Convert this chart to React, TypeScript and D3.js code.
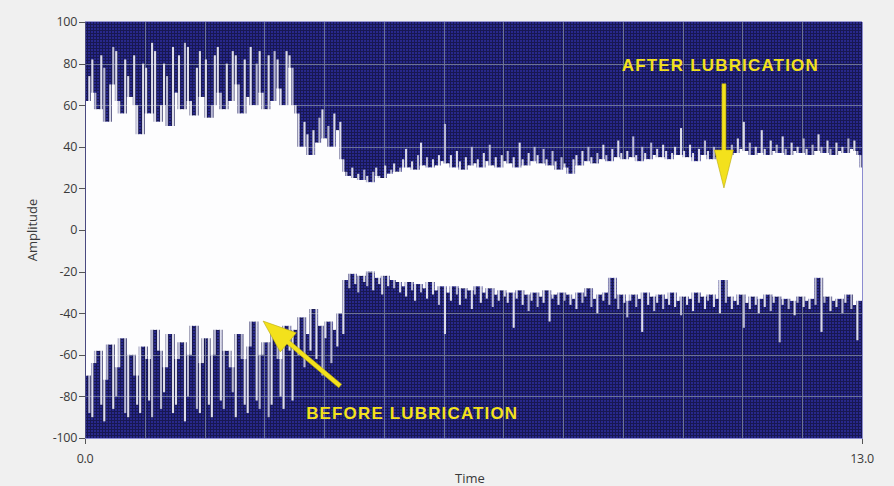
import React from 'react';
import * as d3 from 'd3';

const W = 894;
const H = 486;

// sample spacing of the traces below (seconds)
const STEP = 0.05;

// upper peak of the vibration signal, one value per 0.05 s
const upper = [
  62, 74, 82, 66, 58, 84, 78, 52, 70, 88, 86, 62, 56, 82, 74, 64, 84, 60, 46, 80,
  78, 56, 90, 86, 52, 60, 80, 74, 50, 88, 66, 84, 58, 90, 88, 62, 55, 78, 86, 64,
  82, 54, 60, 84, 88, 66, 58, 80, 62, 86, 84, 70, 56, 82, 64, 88, 60, 80, 86, 66,
  58, 84, 62, 86, 82, 68, 60, 86, 84, 78,
  60, 56, 40, 52, 46, 36, 48, 42, 54, 58, 44, 50, 40, 56, 48, 52, 34,
  28, 26, 30, 25, 27, 24, 29, 26, 23, 28, 30, 26, 25, 31, 27, 29, 32, 28, 30,
  34, 39, 30, 33, 29, 36, 42, 31, 35, 30, 34, 31, 36, 33, 51,
  32, 36, 30, 38, 33, 29, 35, 31, 40, 32, 34, 30, 37, 33, 41, 31, 35, 30, 36, 33,
  38, 32, 35, 30, 42, 34, 31, 37, 33, 40, 36, 32, 39, 34, 31, 38, 33, 29, 35, 32,
  30, 27, 34, 36, 31, 38, 33, 40, 35, 32, 37, 34, 41, 36, 33, 39, 35, 43, 37, 34,
  38, 35, 45, 36, 33, 40, 37, 34, 42, 36, 39, 35, 41, 38, 34, 37, 40, 36, 49, 38,
  35, 41, 37, 33, 39, 36, 43, 38, 34, 40, 37, 35, 42, 38, 36, 41, 37, 44, 39, 52,
  38, 42, 36, 40, 37, 48, 39, 36, 43, 38, 41, 37, 45, 39, 36, 42, 38, 40, 37, 44,
  39, 36, 41, 38, 46, 40, 37, 43, 39, 36, 42, 38, 40, 37, 44, 39, 43, 38, 36, 30,
];

// lower peak of the vibration signal
const lower = [
  -70, -88, -90, -64, -58, -84, -92, -72, -55, -86, -80, -66, -52, -88, -90, -60, -70, -84, -88, -56,
  -62, -82, -90, -48, -58, -86, -78, -66, -50, -88, -84, -62, -54, -92, -80, -60, -46, -86, -88, -64,
  -52, -84, -90, -60, -48, -82, -86, -58, -66, -78, -90, -50, -62, -84, -88, -56, -44, -82, -86, -60,
  -54, -90, -84, -48, -62, -80, -86, -46, -58, -82,
  -48, -60, -42, -66, -50, -58, -38, -62, -46, -70, -52, -44, -64, -48, -56, -40, -50,
  -24, -28, -21, -26, -30, -22, -25, -27, -20, -29, -23, -26, -31, -22, -27, -24, -28, -25, -30,
  -27, -32, -25, -29, -34, -26, -30, -28, -33, -25, -31, -29, -36, -27, -50,
  -30, -34, -27, -31, -36, -28, -33, -29, -38, -31, -27, -35, -30, -33, -28, -37, -31, -34, -29, -32,
  -35, -30, -47, -33, -29, -36, -31, -39, -34, -30, -37, -32, -35, -29, -44, -33, -31, -36, -30, -34,
  -31, -36, -33, -38, -30, -35, -32, -28, -37, -33, -40, -31, -34, -30, -36, -23, -33, -38, -31, -35,
  -42, -34, -31, -37, -33, -49, -30, -36, -32, -39, -35, -31, -38, -33, -36, -30, -37, -34, -41, -32,
  -36, -33, -39, -30, -35, -32, -38, -34, -31, -37, -33, -40, -24, -35, -32, -38, -34, -36, -31, -47,
  -35, -38, -32, -36, -40, -33, -37, -31, -39, -35, -32, -54, -36, -33, -38, -34, -41, -35, -32, -37,
  -34, -38, -33, -36, -23, -49, -35, -32, -39, -34, -37, -33, -40, -35, -31, -38, -36, -53, -34, -39,
];

const yTicks = [100, 80, 60, 40, 20, 0, -20, -40, -60, -80, -100];
const xTicks = [0, 13];
const xTickLabels = ['0.0', '13.0'];
const xGrid = [1, 2, 3, 4, 5, 6, 7, 8, 9, 10, 11, 12];

// annotations, in data units (time, amplitude)
const afterLabel = { text: 'AFTER LUBRICATION', t0: 8.98, t1: 12.26, amp: 76.5 };
const afterArrow = { from: [10.69, 70.3], to: [10.69, 20.2] };
const beforeLabel = { text: 'BEFORE LUBRICATION', t0: 3.7, t1: 7.23, amp: -91 };
const beforeArrow = { from: [4.27, -75], to: [2.98, -43.8] };

const x = d3.scaleLinear().domain([0, 13]).range([85, 862]);
const y = d3.scaleLinear().domain([-100, 100]).range([438, 22]);

const YELLOW = '#f3e11c';

function arrowPoints(from: number[], to: number[], shaft: number, headLen: number, headW: number) {
  const x0 = x(from[0]), y0 = y(from[1]);
  const x1 = x(to[0]), y1 = y(to[1]);
  const len = Math.hypot(x1 - x0, y1 - y0);
  const dx = (x1 - x0) / len, dy = (y1 - y0) / len;
  const nx = -dy, ny = dx;
  const bx = x1 - dx * headLen, by = y1 - dy * headLen;
  const pts = [
    [x0 + nx * shaft / 2, y0 + ny * shaft / 2],
    [bx + nx * shaft / 2, by + ny * shaft / 2],
    [bx + nx * headW / 2, by + ny * headW / 2],
    [x1, y1],
    [bx - nx * headW / 2, by - ny * headW / 2],
    [bx - nx * shaft / 2, by - ny * shaft / 2],
    [x0 - nx * shaft / 2, y0 - ny * shaft / 2],
  ];
  return pts.map(p => p.join(',')).join(' ');
}

export default function App() {
  const [left, right] = x.range();
  const [bottom, top] = y.range();
  const colW = x(STEP) - x(0);
  const tickFont = "'Open Sans', 'DejaVu Sans', sans-serif";
  const labelFont = "'Liberation Sans', Arial, sans-serif";

  // solid part of the envelope = what neighbouring samples share
  const core = upper.map((u, i) => {
    const l = lower[i];
    return {
      t: i * STEP,
      u: Math.min(u, upper[i - 1] ?? u, upper[i + 1] ?? u),
      l: Math.max(l, lower[i - 1] ?? l, lower[i + 1] ?? l),
    };
  });
  core.push({ ...core[core.length - 1], t: core.length * STEP });

  const coreArea = d3.area<{ t: number; u: number; l: number }>()
    .x(d => x(d.t))
    .y0(d => y(d.l))
    .y1(d => y(d.u))
    .curve(d3.curveStepAfter);

  return (
    <svg width={W} height={H} style={{ position: 'absolute', left: 0, top: 0, background: '#f0f0f0' }}>
      <defs>
        <pattern id="fine" width="3" height="3" patternUnits="userSpaceOnUse" x={left} y={top}>
          <rect width="3" height="3" fill="#28288c" />
          <rect x="2" width="1" height="3" fill="#181852" />
          <rect y="2" width="3" height="1" fill="#181852" />
        </pattern>
        <clipPath id="plot">
          <rect x={left} y={top} width={right - left} height={bottom - top} />
        </clipPath>
      </defs>

      {/* plot background */}
      <rect x={left} y={top} width={right - left} height={bottom - top} fill="url(#fine)" />

      {/* major grid */}
      <g stroke="#6c7294" strokeWidth={1} shapeRendering="crispEdges">
        {xGrid.map(t => (
          <line key={'gx' + t} x1={Math.round(x(t)) + 0.5} x2={Math.round(x(t)) + 0.5} y1={top} y2={bottom} />
        ))}
        {yTicks.slice(1, -1).map(v => (
          <line key={'gy' + v} x1={left} x2={right} y1={Math.round(y(v)) + 0.5} y2={Math.round(y(v)) + 0.5} />
        ))}
      </g>

      {/* signal envelope: solid core plus thinner grey peaks */}
      <g clipPath="url(#plot)">
        {upper.map((u, i) => {
          const l = lower[i];
          const x0 = x(i * STEP);
          const c = core[i];
          return (
            <g key={i}>
              <rect x={x0 + 0.3} width={colW - 0.9} y={y(u)} height={y(c.u) - y(u) + 1} fill={i % 3 === 0 ? '#b8b8d2' : '#dcdce9'} />
              <rect x={x0 + 0.3} width={colW - 0.9} y={y(c.l) - 1} height={y(l) - y(c.l) + 1} fill={i % 3 === 1 ? '#b8b8d2' : '#dcdce9'} />
            </g>
          );
        })}
        <path d={coreArea(core) ?? ''} fill="#fdfdfe" />
      </g>

      {/* axes frame */}
      <g shapeRendering="crispEdges" fill="none">
        <line x1={left + 0.5} x2={left + 0.5} y1={top} y2={bottom + 1} stroke="#4a4a80" />
        <line x1={left} x2={right + 1} y1={bottom + 0.5} y2={bottom + 0.5} stroke="#8c8cd0" />
        <line x1={right + 0.5} x2={right + 0.5} y1={top} y2={bottom} stroke="#8c8cd0" />
        <line x1={left} x2={right} y1={top - 0.5} y2={top - 0.5} stroke="#9a9ad0" />
      </g>

      {/* y ticks */}
      <g fontFamily={tickFont} fontSize={12.5} fill="#3a3a3a">
        {yTicks.map(v => (
          <g key={'yt' + v}>
            <line x1={left - 6} x2={left} y1={Math.round(y(v)) + 0.5} y2={Math.round(y(v)) + 0.5} stroke="#555" shapeRendering="crispEdges" />
            <text x={left - 8} y={y(v)} dy="0.35em" textAnchor="end" letterSpacing={-0.3}>{v}</text>
          </g>
        ))}
      </g>

      {/* x ticks */}
      <g fontFamily={tickFont} fontSize={12.5} fill="#3a3a3a">
        {xTicks.map((t, i) => (
          <g key={'xt' + t}>
            <line x1={Math.round(x(t)) + 0.5} x2={Math.round(x(t)) + 0.5} y1={bottom + 1} y2={bottom + 6} stroke="#555" shapeRendering="crispEdges" />
            <text x={x(t)} y={bottom + 25} textAnchor="middle" letterSpacing={-0.3}>{xTickLabels[i]}</text>
          </g>
        ))}
      </g>

      {/* axis titles */}
      <text transform={`translate(37,${y(0)}) rotate(-90)`} textAnchor="middle" fontFamily={tickFont} fontSize={13} fill="#3a3a3a">Amplitude</text>
      <text x={470} y={483} textAnchor="middle" fontFamily={tickFont} fontSize={13} fill="#3a3a3a">Time</text>

      {/* annotations */}
      <polygon points={arrowPoints(afterArrow.from, afterArrow.to, 4, 38, 19)} fill={YELLOW} stroke="#b9a90e" strokeWidth={0.6} />
      <polygon points={arrowPoints(beforeArrow.from, beforeArrow.to, 4.5, 33, 25)} fill={YELLOW} stroke="#b9a90e" strokeWidth={0.6} />
      <text x={x(afterLabel.t0)} y={y(afterLabel.amp)} textLength={x(afterLabel.t1) - x(afterLabel.t0)} lengthAdjust="spacing"
        fontFamily={labelFont} fontWeight="bold" fontSize={17} fill={YELLOW}>{afterLabel.text}</text>
      <text x={x(beforeLabel.t0)} y={y(beforeLabel.amp)} textLength={x(beforeLabel.t1) - x(beforeLabel.t0)} lengthAdjust="spacing"
        fontFamily={labelFont} fontWeight="bold" fontSize={17} fill={YELLOW}>{beforeLabel.text}</text>
    </svg>
  );
}
